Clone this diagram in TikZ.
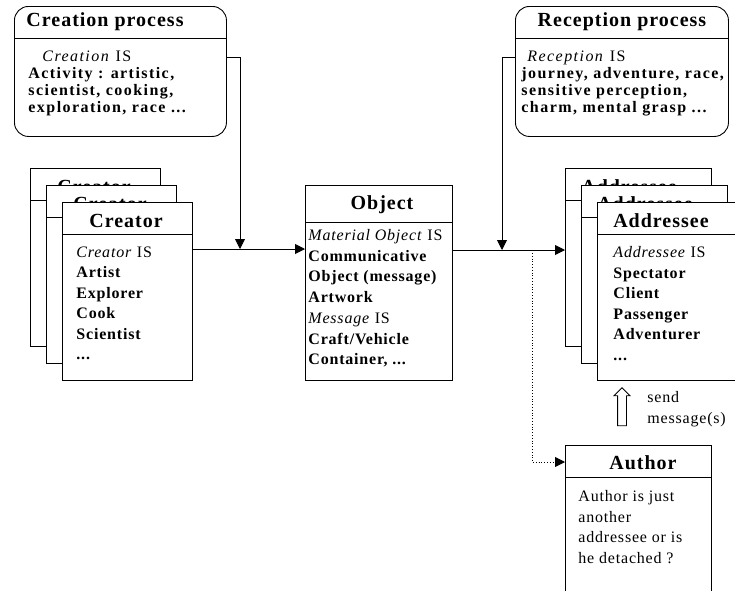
\documentclass[tikz,border=0pt]{standalone}
\usepackage{fontspec}
\usepackage{tikz}
\usetikzlibrary{positioning,arrows.meta,shapes,calc}
\setmainfont{Liberation Serif}
\newfontfamily\diagfont[LetterSpace=5]{Liberation Serif}
\newfontfamily\widefont[LetterSpace=9]{Liberation Serif}

\tikzset{
  procbox/.style={draw, rounded corners=14pt, minimum width=212, minimum height=130, anchor=north west, inner sep=0pt},
  cardbox/.style={draw, fill=white, anchor=north west, inner sep=0pt},
  headtext/.style={inner sep=0pt, font=\diagfont\bfseries\fontsize{20}{22}\selectfont},
  bodytext/.style={anchor=north west, align=left, inner sep=0pt, font=\diagfont\fontsize{16}{20.5}\selectfont},
  procbody/.style={bodytext, font=\widefont\fontsize{16}{17}\selectfont},
  flow/.style={-{Triangle[length=10pt,width=10pt]}},
}

\begin{document}
\begin{tikzpicture}[x=1pt, y=-1pt, line width=0.9pt]
        \useasboundingbox (0,0) rectangle (735,590);
        \clip (0,0) rectangle (735,590);

        % Process boxes
        \node[procbox] (creation) at (14,6) {};
        \draw ($(creation.north west)+(0,32)$) -- ($(creation.north east)+(0,32)$);
        \node[headtext] at ($(creation.north west)+(91,16)$) {Creation process};
        \node[procbody] (creationtxt) at (28,50) {\hspace*{14pt}\textit{Creation} IS\\ \textbf{Activity : artistic,}\\ \textbf{scientist, cooking,}\\ \textbf{exploration, race ...}};

        \node[procbox, minimum width=213] (reception) at (515,6) {};
        \draw ($(reception.north west)+(0,32)$) -- ($(reception.north east)+(0,32)$);
        \node[headtext] at ($(reception.north)+(0,16)$) {Reception process};
        \node[procbody] (receptiontxt) at (521,50) {\hspace*{6pt}\textit{Reception} IS\\ \textbf{journey, adventure, race,}\\ \textbf{sensitive perception,}\\ \textbf{charm, mental grasp ...}};

        % Creator stack
        \foreach \k in {0,1,2} {
          \node[cardbox, minimum width=130, minimum height=178] (C\k) at ({30+16*\k},{168+17*\k}) {};
          \draw ($(C\k.north west)+(0,32)$) -- ($(C\k.north east)+(0,32)$);
          \node[headtext] at ($(C\k.north west)+(64,19)$) {Creator};
        }
        \node[bodytext] (creatortxt) at (76,246) {\textit{Creator} IS\\ \textbf{Artist}\\ \textbf{Explorer}\\ \textbf{Cook}\\ \textbf{Scientist}\\ \textbf{...}};

        % Object
        \node[cardbox, minimum width=147, minimum height=195] (object) at (305,185) {};
        \draw ($(object.north west)+(0,37)$) -- ($(object.north east)+(0,37)$);
        \node[headtext] at ($(object.north)+(3,20)$) {Object};
        \node[bodytext, font=\diagfont\fontsize{16}{20.7}\selectfont] (objecttxt) at (308,229) {\textit{Material Object} IS\\ \textbf{Communicative}\\ \textbf{Object (message)}\\ \textbf{Artwork}\\ \textit{Message} IS\\ \textbf{Craft/Vehicle}\\ \textbf{Container, ...}};

        % Addressee stack
        \foreach \k in {0,1,2} {
          \node[cardbox, minimum width=146, minimum height=178] (A\k) at ({565+16*\k},{168+17*\k}) {};
          \draw ($(A\k.north west)+(0,32)$) -- ($(A\k.north east)+(0,32)$);
          \node[headtext] at ($(A\k.north west)+(64,19)$) {Addressee};
        }
        \node[bodytext] (addresseetxt) at (613,246) {\textit{Addressee} IS\\ \textbf{Spectator}\\ \textbf{Client}\\ \textbf{Passenger}\\ \textbf{Adventurer}\\ \textbf{...}};

        % Author
        \node[cardbox, minimum width=146, minimum height=160] (author) at (565,445) {};
        \draw ($(author.north west)+(0,32)$) -- ($(author.north east)+(0,32)$);
        \node[headtext] at ($(author.north west)+(78,18)$) {Author};
        \node[bodytext] (authortxt) at (578,490) {Author is just\\ another\\ addressee or is\\ he detached ?};

        % send message(s)
        \node[single arrow, draw, rotate=90, inner xsep=0pt, inner ysep=4pt, minimum height=38pt, single arrow head extend=3.5pt] (send) at (622,409) {};
        \node[bodytext] (sendtxt) at (647,391) {send\\ message(s)};

        % Connectors
        \coordinate (cjoin) at (240,249);
        \coordinate (rjoin) at (502,250);
        \coordinate (dstart) at (532,253);
        \draw[flow] ([yshift=14pt]creation.east) -| (cjoin);
        \draw[flow] (C2.east |- cjoin) -- (object.west |- cjoin);
        \draw[flow] ([yshift=14pt]reception.west) -| (rjoin);
        \draw[flow] (object.east |- rjoin) -- (A0.west |- rjoin);
        \draw[flow, dotted, line width=0.8pt] (dstart) |- ([yshift=-17pt]author.north west);
\end{tikzpicture}
\end{document}
